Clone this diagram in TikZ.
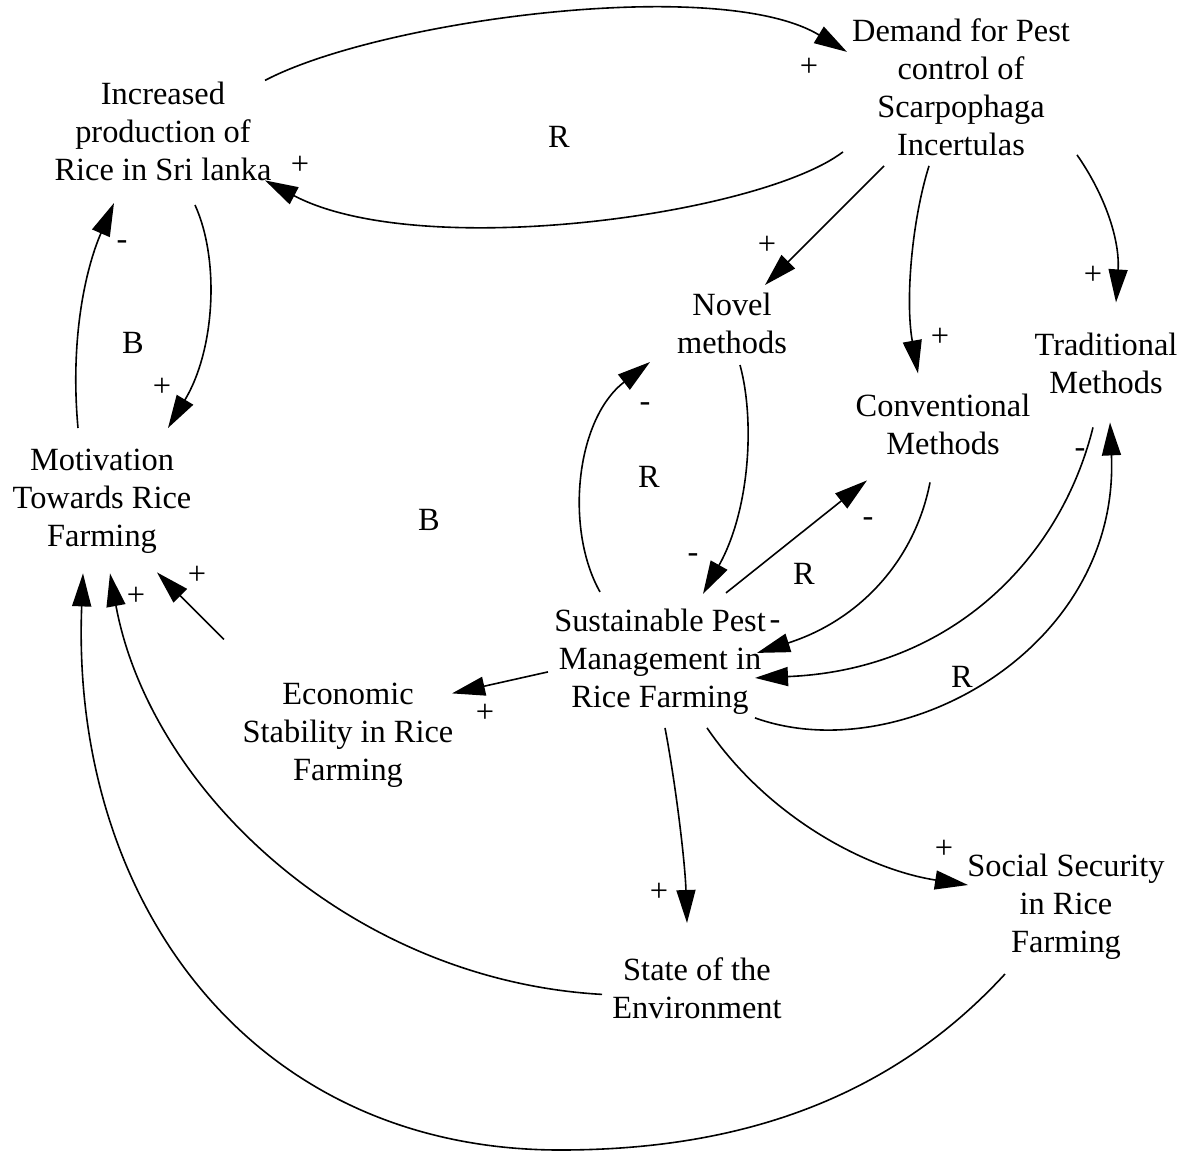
\documentclass[tikz,border=0pt]{standalone}
\usepackage{fontspec}
\setmainfont{Liberation Serif}
\usetikzlibrary{arrows.meta,calc}
\begin{document}
\begin{tikzpicture}[x=1pt,y=-1pt,
  var/.style={align=center, inner sep=0pt, font=\fontsize{32.4}{38}\selectfont},
  lbl/.style={inner sep=0pt, font=\fontsize{32.4}{38}\selectfont},
  link/.style={line width=1.6pt, -{Triangle[length=33pt,width=19pt]}}]
\useasboundingbox[fill=white] (0,0) rectangle (1192,1154);

% variables
\node[var] (incr) at (163,134.4) {\strut Increased\\\strut production of\\\strut Rice in Sri lanka};
\node[var] (dem) at (961,90.9) {\strut Demand for Pest\\\strut control of\\\strut Scarpophaga\\\strut Incertulas};
\node[var] (novel) at (732,327) {\strut Novel\\\strut methods};
\node[var] (conv) at (943,427.4) {\strut Conventional\\\strut Methods};
\node[var] (trad) at (1106,366.4) {\strut Traditional\\\strut Methods};
\node[var] (motiv) at (102,500.4) {\strut Motivation\\\strut Towards Rice\\\strut Farming};
\node[var] (sust) at (660,661.9) {\strut Sustainable Pest\\\strut Management in\\\strut Rice Farming};
\node[var] (econ) at (348,734.4) {\strut Economic\\\strut Stability in Rice\\\strut Farming};
\node[var] (env) at (697,991.4) {\strut State of the\\\strut Environment};
\node[var] (soc) at (1066,907) {\strut Social Security\\\strut in Rice\\\strut Farming};

% connectors
\draw[link] ($(incr)+(102,-54)$) .. controls (380,20) and (720,-25) .. ($(dem)+(-114,-39)$);
\draw[link] ($(dem)+(-118,61)$) .. controls (760,215) and (420,262) .. ($(incr)+(102,46)$);
\draw[link] ($(incr)+(32,70.6)$) .. controls (220,260) and (215,350) .. ($(motiv)+(66,-72.4)$);
\draw[link] ($(motiv)+(-24,-72.4)$) .. controls (70,340) and (85,270) .. ($(incr)+(-49,68.6)$);
\draw[link] ($(dem)+(-77,75.1)$) -- ($(novel)+(33,-42)$);
\draw[link] ($(dem)+(-32,75)$) .. controls (912,220) and (905,300) .. ($(conv)+(-25,-54)$);
\draw[link] ($(dem)+(116,64)$) .. controls (1105,195) and (1120,240) .. ($(trad)+(10,-64)$);
\draw[link] ($(sust)+(-60,-70)$) .. controls (565,530) and (575,420) .. ($(novel)+(-82,35)$);
\draw[link] ($(novel)+(8,38)$) .. controls (755,420) and (750,510) .. ($(sust)+(43,-68)$);
\draw[link] ($(sust)+(66,-69)$) -- ($(conv)+(-76,53)$);
\draw[link] ($(conv)+(-13,55)$) .. controls (915,560) and (860,620) .. ($(sust)+(97,-9)$);
\draw[link] ($(trad)+(-13,61)$) .. controls (1060,560) and (950,670) .. ($(sust)+(95,16)$);
\draw[link] ($(sust)+(95,56)$) .. controls (900,770) and (1120,650) .. ($(trad)+(4,56)$);
\draw[link] ($(sust)+(-112,10)$) -- ($(econ)+(104,-41)$);
\draw[link] ($(econ)+(-124,-95)$) -- ($(motiv)+(55,72)$);
\draw[link] ($(env)+(-95,3)$) .. controls (350,980) and (150,790) .. ($(motiv)+(8,73)$);
\draw[link] ($(soc)+(-61,67)$) .. controls (880,1110) and (720,1150) .. (560,1150)
   .. controls (250,1150) and (70,900) .. ($(motiv)+(-19,73)$);
\draw[link] ($(sust)+(5,66)$) .. controls (675,780) and (685,860) .. ($(env)+(-10,-68.4)$);
\draw[link] ($(sust)+(47,66)$) .. controls (770,820) and (870,870) .. ($(soc)+(-98,-22)$);

% polarity and loop labels
\node[lbl] (l1) at (809,67) {+};
\node[lbl] (l2) at (300,165) {+};
\node[lbl] (l3) at (559,137) {R};
\node[lbl] (l4) at (122,245) {-};
\node[lbl] (l5) at (162,387) {+};
\node[lbl] (l6) at (133,343) {B};
\node[lbl] (l7) at (429,520) {B};
\node[lbl] (l8) at (767,245) {+};
\node[lbl] (l9) at (940,337) {+};
\node[lbl] (l10) at (1093,275) {+};
\node[lbl] (l11) at (645,407) {-};
\node[lbl] (l12) at (649,477) {R};
\node[lbl] (l13) at (693,558) {-};
\node[lbl] (l14) at (868,522) {-};
\node[lbl] (l15) at (804,574) {R};
\node[lbl] (l16) at (775,625) {-};
\node[lbl] (l17) at (1080,453) {-};
\node[lbl] (l18) at (962,677) {R};
\node[lbl] (l19) at (485,713) {+};
\node[lbl] (l20) at (197,575) {+};
\node[lbl] (l21) at (136,596) {+};
\node[lbl] (l22) at (659,892) {+};
\node[lbl] (l23) at (944,849) {+};
\end{tikzpicture}
\end{document}
